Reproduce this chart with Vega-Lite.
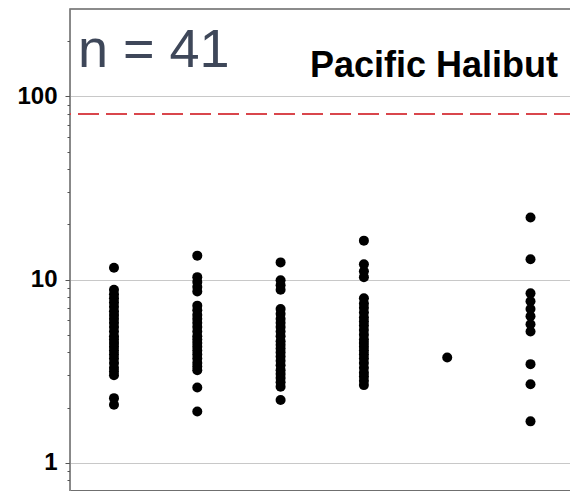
{
  "$schema": "https://vega.github.io/schema/vega-lite/v6.json",
  "autosize": {"type": "none"},
  "padding": {"left": 70, "top": 9, "right": 0, "bottom": 0},
  "width": 505,
  "height": 482,
  "background": "white",
  "view": {"stroke": "#666666", "strokeWidth": 1.5},
  "data": {
    "values": [
      {"year": 1, "conc": 11.6}, {"year": 1, "conc": 8.8}, {"year": 1, "conc": 8.3}, {"year": 1, "conc": 7.9}, {"year": 1, "conc": 7.5}, {"year": 1, "conc": 7.1}, {"year": 1, "conc": 6.7}, {"year": 1, "conc": 6.4}, {"year": 1, "conc": 6.1}, {"year": 1, "conc": 5.8}, {"year": 1, "conc": 5.5}, {"year": 1, "conc": 5.2}, {"year": 1, "conc": 4.9}, {"year": 1, "conc": 4.7}, {"year": 1, "conc": 4.5}, {"year": 1, "conc": 4.3}, {"year": 1, "conc": 4.1}, {"year": 1, "conc": 3.9}, {"year": 1, "conc": 3.7}, {"year": 1, "conc": 3.5}, {"year": 1, "conc": 3.3}, {"year": 1, "conc": 3.15}, {"year": 1, "conc": 3.0}, {"year": 1, "conc": 2.25}, {"year": 1, "conc": 2.07},
      {"year": 2, "conc": 13.5}, {"year": 2, "conc": 10.3}, {"year": 2, "conc": 9.7}, {"year": 2, "conc": 9.1}, {"year": 2, "conc": 8.6}, {"year": 2, "conc": 7.2}, {"year": 2, "conc": 6.8}, {"year": 2, "conc": 6.4}, {"year": 2, "conc": 6.1}, {"year": 2, "conc": 5.8}, {"year": 2, "conc": 5.5}, {"year": 2, "conc": 5.2}, {"year": 2, "conc": 4.9}, {"year": 2, "conc": 4.7}, {"year": 2, "conc": 4.5}, {"year": 2, "conc": 4.3}, {"year": 2, "conc": 4.1}, {"year": 2, "conc": 3.9}, {"year": 2, "conc": 3.7}, {"year": 2, "conc": 3.5}, {"year": 2, "conc": 3.35}, {"year": 2, "conc": 3.2}, {"year": 2, "conc": 2.57}, {"year": 2, "conc": 1.9},
      {"year": 3, "conc": 12.4}, {"year": 3, "conc": 9.9}, {"year": 3, "conc": 9.3}, {"year": 3, "conc": 8.8}, {"year": 3, "conc": 6.9}, {"year": 3, "conc": 6.5}, {"year": 3, "conc": 6.1}, {"year": 3, "conc": 5.8}, {"year": 3, "conc": 5.5}, {"year": 3, "conc": 5.2}, {"year": 3, "conc": 4.9}, {"year": 3, "conc": 4.6}, {"year": 3, "conc": 4.4}, {"year": 3, "conc": 4.2}, {"year": 3, "conc": 4.0}, {"year": 3, "conc": 3.8}, {"year": 3, "conc": 3.6}, {"year": 3, "conc": 3.4}, {"year": 3, "conc": 3.2}, {"year": 3, "conc": 3.05}, {"year": 3, "conc": 2.9}, {"year": 3, "conc": 2.75}, {"year": 3, "conc": 2.6}, {"year": 3, "conc": 2.2},
      {"year": 4, "conc": 16.3}, {"year": 4, "conc": 12.1}, {"year": 4, "conc": 11.1}, {"year": 4, "conc": 10.3}, {"year": 4, "conc": 7.9}, {"year": 4, "conc": 7.4}, {"year": 4, "conc": 7.0}, {"year": 4, "conc": 6.6}, {"year": 4, "conc": 6.2}, {"year": 4, "conc": 5.9}, {"year": 4, "conc": 5.6}, {"year": 4, "conc": 5.3}, {"year": 4, "conc": 5.0}, {"year": 4, "conc": 4.7}, {"year": 4, "conc": 4.5}, {"year": 4, "conc": 4.3}, {"year": 4, "conc": 4.1}, {"year": 4, "conc": 3.9}, {"year": 4, "conc": 3.7}, {"year": 4, "conc": 3.5}, {"year": 4, "conc": 3.3}, {"year": 4, "conc": 3.1}, {"year": 4, "conc": 2.95}, {"year": 4, "conc": 2.8}, {"year": 4, "conc": 2.65},
      {"year": 5, "conc": 3.75},
      {"year": 6, "conc": 21.8}, {"year": 6, "conc": 12.9}, {"year": 6, "conc": 8.4}, {"year": 6, "conc": 7.6}, {"year": 6, "conc": 6.9}, {"year": 6, "conc": 6.3}, {"year": 6, "conc": 5.7}, {"year": 6, "conc": 5.2}, {"year": 6, "conc": 3.45}, {"year": 6, "conc": 2.68}, {"year": 6, "conc": 1.68}
    ]
  },
  "layer": [
    {
      "mark": {"type": "circle", "size": 100, "color": "#000000", "opacity": 1},
      "encoding": {
        "x": {
          "field": "year", "type": "quantitative",
          "scale": {"domain": [0.472, 6.534], "nice": false, "zero": false},
          "axis": {
            "orient": "bottom", "title": null, "values": [1, 2, 3, 4, 5, 6],
            "labels": false, "grid": false, "tickSize": 6, "tickColor": "#555555",
            "domainColor": "#555555", "domainWidth": 2
          }
        },
        "y": {
          "field": "conc", "type": "quantitative",
          "scale": {"type": "log", "domain": [0.7, 300], "nice": false},
          "axis": {
            "title": null,
            "values": [0.8, 0.9, 1, 2, 3, 4, 5, 6, 7, 8, 9, 10, 20, 30, 40, 50, 60, 70, 80, 90, 100, 200],
            "format": "~g",
            "labelExpr": "(datum.value == 1 || datum.value == 10 || datum.value == 100) ? datum.label : ''",
            "tickSize": {"condition": {"test": "datum.value == 1 || datum.value == 10 || datum.value == 100", "value": 5}, "value": 3},
            "grid": true,
            "gridColor": "#c8c8c8",
            "gridOpacity": {"condition": {"test": "datum.value == 1 || datum.value == 10 || datum.value == 100", "value": 1}, "value": 0},
            "tickColor": "#555555",
            "domainColor": "#888888",
            "labelFont": "Liberation Sans",
            "labelFontSize": 24,
            "labelFontWeight": "bold",
            "labelColor": "#000000",
            "labelPadding": 8
          }
        }
      }
    },
    {
      "data": {"values": [{}]},
      "mark": {"type": "rule", "color": "#d9464c", "strokeWidth": 2, "strokeDash": [21, 7]},
      "encoding": {"y": {"datum": 80, "type": "quantitative"}}
    },
    {
      "data": {"values": [{}]},
      "mark": {"type": "text", "align": "left", "baseline": "alphabetic", "font": "Liberation Sans", "fontSize": 54, "color": "#3e4759"},
      "encoding": {
        "x": {"datum": 0.568, "type": "quantitative"},
        "y": {"datum": 144.6, "type": "quantitative"},
        "text": {"value": "n = 41"}
      }
    },
    {
      "data": {"values": [{}]},
      "mark": {"type": "text", "align": "left", "baseline": "alphabetic", "font": "Liberation Sans", "fontWeight": "bold", "fontSize": 36, "color": "#000000"},
      "encoding": {
        "x": {"datum": 3.353, "type": "quantitative"},
        "y": {"datum": 127.6, "type": "quantitative"},
        "text": {"value": "Pacific Halibut"}
      }
    }
  ]
}
